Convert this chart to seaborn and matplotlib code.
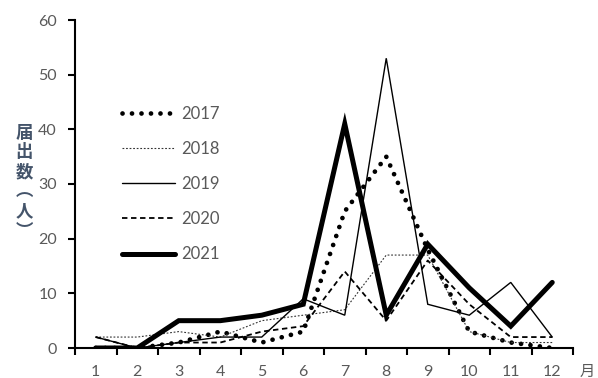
import matplotlib
matplotlib.use("Agg")
import matplotlib.pyplot as plt
import seaborn as sns
import pandas as pd
from matplotlib.ticker import FixedLocator

# Monthly notification counts per year
months = list(range(1, 13))
years = ["2017", "2018", "2019", "2020", "2021"]
cases_2017 = [0, 0, 1, 3, 1, 3, 25, 35, 18, 3, 1, 0]
cases_2018 = [2, 2, 3, 2, 5, 6, 7, 17, 17, 3, 1, 1]
cases_2019 = [2, 0, 1, 2, 2, 9, 6, 53, 8, 6, 12, 2]
cases_2020 = [2, 0, 1, 1, 3, 4, 14, 5, 16, 8, 2, 2]
cases_2021 = [0, 0, 5, 5, 6, 8, 41, 6, 19, 11, 4, 12]
y_ticks = [0, 10, 20, 30, 40, 50, 60]
x_unit = "月"
y_label = ["届", "出", "数", "︵", "人", "︶"]

series = [cases_2017, cases_2018, cases_2019, cases_2020, cases_2021]
df = pd.DataFrame(
    [(m, y, v) for y, vals in zip(years, series) for m, v in zip(months, vals)],
    columns=["month", "year", "count"],
)

sns.set_theme(style="white")
plt.rcParams["font.family"] = ["Lato", "Noto Sans CJK JP", "DejaVu Sans"]

tick_color = "#595959"
label_color = "#44546A"

fig = plt.figure(figsize=(5.98, 3.78), dpi=100)
ax = fig.add_axes([75 / 598, 1 - 348 / 378, 498 / 598, 328 / 378])

widths = {"2017": 3.4, "2018": 0.8, "2019": 1.0, "2020": 1.3, "2021": 3.6}
dashes = {
    "2017": (0.01, 2.0),
    "2018": (1.6, 1.6),
    "2019": "",
    "2020": (3.0, 2.0),
    "2021": "",
}
sns.lineplot(
    data=df, x="month", y="count", hue="year", style="year", size="year",
    sizes=widths, dashes=dashes,
    palette={"2017": "black", "2018": "#333333", "2019": "black",
             "2020": "black", "2021": "black"},
    hue_order=years, style_order=years, size_order=years,
    legend=False, ax=ax,
)
lines = ax.get_lines()[:len(years)]
for ln, yr in zip(lines, years):
    ln.set_solid_joinstyle("miter")
    if yr == "2017":
        ln.set_dash_capstyle("round")

ax.set_xlim(0.5, 12.5)
ax.set_ylim(0, 60)
ax.set_xlabel("")
ax.set_ylabel("")

ax.xaxis.set_major_locator(FixedLocator(months))
ax.xaxis.set_minor_locator(FixedLocator([m + 0.5 for m in [0] + months]))
ax.set_xticklabels([str(m) for m in months])
ax.tick_params(axis="x", which="major", length=0, pad=12,
               labelsize=11.5, labelcolor=tick_color)
ax.tick_params(axis="x", which="minor", length=5, width=1.5,
               direction="out", color="black", bottom=True)
ax.set_yticks(y_ticks)
ax.tick_params(axis="y", length=5, width=1.5, direction="out", left=True,
               color="black", pad=8, labelsize=11.5, labelcolor=tick_color)

for side in ["top", "right"]:
    ax.spines[side].set_visible(False)
for side in ["left", "bottom"]:
    ax.spines[side].set_color("black")
    ax.spines[side].set_linewidth(1.5)

leg = ax.legend(
    handles=lines, labels=years, loc="center left",
    bbox_to_anchor=(122 / 598, 1 - 184 / 378), bbox_transform=fig.transFigure,
    frameon=False, handlelength=3.2, handletextpad=0.35, labelspacing=1.15,
    borderpad=0, borderaxespad=0, fontsize=12,
)
for t in leg.get_texts():
    t.set_color(tick_color)

fig.text(587 / 598, 1 - 371 / 378, x_unit, ha="center", va="center",
         fontsize=11, color=tick_color, family=["Noto Sans CJK JP"])

fig.text(24 / 598, 1 - 182 / 378, "\n".join(y_label), ha="center", va="center",
         fontsize=12.5, color=label_color, linespacing=1.12,
         family=["Noto Sans CJK JP"], fontweight="bold")

fig.savefig("out.png", dpi=100)
